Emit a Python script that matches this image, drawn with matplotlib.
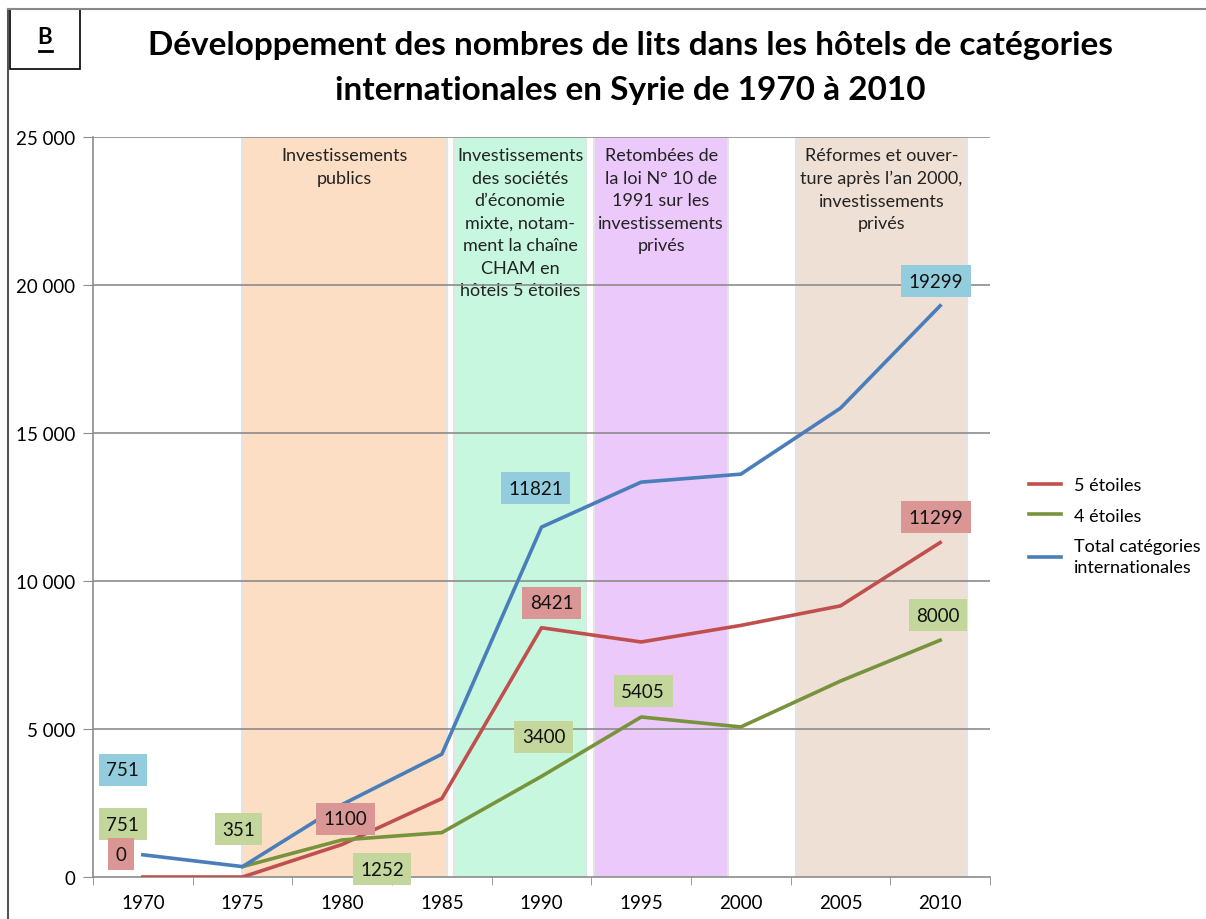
import numpy as np
import matplotlib.pyplot as plt
from matplotlib.patches import Rectangle

plt.rcParams['font.family'] = ['Lato', 'DejaVu Sans']

# DATA
years = ['1970', '1975', '1980', '1985', '1990', '1995', '2000', '2005', '2010']
five_stars = [0, 0, 1100, 2650, 8421, 7940, 8500, 9160, 11299]
four_stars = [np.nan, 351, 1252, 1500, 3400, 5405, 5070, 6620, 8000]
total_intl = [751, 351, 2450, 4150, 11821, 13340, 13610, 15840, 19299]

series_names = ['5 étoiles', '4 étoiles', 'Total catégories\ninternationales']
series_colors = ['#C0504D', '#77933C', '#4A7EBB']
label_colors = ['#D99694', '#C3D69B', '#93CDDD']

# value labels: (series index, text, x position, y position)
value_labels = [
    (2, '751', -0.2, 3615), (1, '751', -0.2, 1790), (0, '0', -0.22, 777),
    (1, '351', 0.96, 1620), (0, '1100', 2.03, 1960), (1, '1252', 2.4, 270),
    (2, '11821', 3.94, 13140), (0, '8421', 4.1, 9260), (1, '3400', 4.02, 4730),
    (1, '5405', 5.02, 6280), (2, '19299', 7.96, 20135), (0, '11299', 7.96, 12160),
    (1, '8000', 7.98, 8850),
]

# period bands: start, end, colour, text
bands = [
    (1.0, 3.05, '#FCDEC4', 'Investissements\npublics'),
    (3.12, 4.45, '#C7F8DF', 'Investissements\ndes sociétés\nd\u2019économie\nmixte, notam-\nment la chaîne\nCHAM en\nhôtels 5 étoiles'),
    (4.53, 5.87, '#EBC9FA', 'Retombées de\nla loi N° 10 de\n1991 sur les\ninvestissements\nprivés'),
    (6.55, 8.27, '#EFE0D5', 'Réformes et ouver-\nture après l\u2019an 2000,\ninvestissements\nprivés'),
]

fig = plt.figure(figsize=(12.06, 9.2), dpi=100)
ax = fig.add_axes([93/1206, 1-878/920, (990-93)/1206, (878-138)/920])

x = np.arange(len(years))
for b0, b1, col, txt in bands:
    ax.axvspan(b0, b1, fc=col, ec='#E4E4E4', lw=1.5, zorder=0)
    ax.text((b0+b1)/2, 24650, txt, ha='center', va='top', fontsize=13,
            color='#222222', linespacing=1.5, zorder=1)

for yv in range(5000, 25001, 5000):
    ax.axhline(yv, color='#8C8C8C', lw=1.2, zorder=1)

for vals, name, col in zip([five_stars, four_stars, total_intl], series_names, series_colors):
    ax.plot(x, vals, color=col, lw=2.6, label=name, zorder=3)

for si, txt, lx, ly in value_labels:
    ax.text(lx, ly, txt, ha='center', va='center', fontsize=13.5, color='#111111', zorder=4,
            bbox=dict(boxstyle='square,pad=0.4', fc=label_colors[si], ec='none'))

ax.set_xlim(-0.5, 8.5)
ax.set_ylim(0, 25000)
ax.set_xticks(x)
ax.set_xticklabels(years)
ax.set_xticks(np.arange(-0.5, 8.6, 1), minor=True)
ax.tick_params(axis='x', which='major', length=0, labelsize=13.5, pad=12)
ax.tick_params(axis='x', which='minor', length=6, color='#8C8C8C')
ax.set_yticks(range(0, 25001, 5000))
ax.set_yticklabels(['0', '5 000', '10 000', '15 000', '20 000', '25 000'])
ax.tick_params(axis='y', length=7, color='#8C8C8C', labelsize=13.5, pad=6)
for s in ['top', 'right']:
    ax.spines[s].set_visible(False)
ax.spines['left'].set_color('#8C8C8C')
ax.spines['bottom'].set_color('#8C8C8C')
ax.spines['left'].set_linewidth(1.2)
ax.spines['bottom'].set_linewidth(1.2)

leg = ax.legend(loc='upper left', bbox_to_anchor=(1.035, 0.55), borderaxespad=0, frameon=False,
                fontsize=13, handlelength=1.8, labelspacing=0.8, handletextpad=0.7)
for t in leg.get_texts():
    t.set_linespacing(1.35)

fig.text(0.523, 0.966, 'Développement des nombres de lits dans les hôtels de catégories\ninternationales en Syrie de 1970 à 2010',
         ha='center', va='top', fontsize=24, fontweight='bold', linespacing=1.65)

# panel letter box and border
fig.patches.append(Rectangle((10/1206, 1-70/920), 70/1206, 60/920, transform=fig.transFigure,
                             fc='white', ec='black', lw=1.2))
fig.text(45/1206, 1-38/920, 'B', ha='center', va='center', fontsize=16, fontweight='bold')
fig.add_artist(plt.Line2D([39/1206, 52/1206], [1-52/920, 1-52/920], transform=fig.transFigure, color='black', lw=2))
fig.add_artist(plt.Line2D([8/1206, 8/1206], [0, 1-10/920], transform=fig.transFigure, color='#555555', lw=1.5))
fig.add_artist(plt.Line2D([8/1206, 1], [1-10/920, 1-10/920], transform=fig.transFigure, color='#888888', lw=1.5))

fig.savefig('out.png', dpi=100)
